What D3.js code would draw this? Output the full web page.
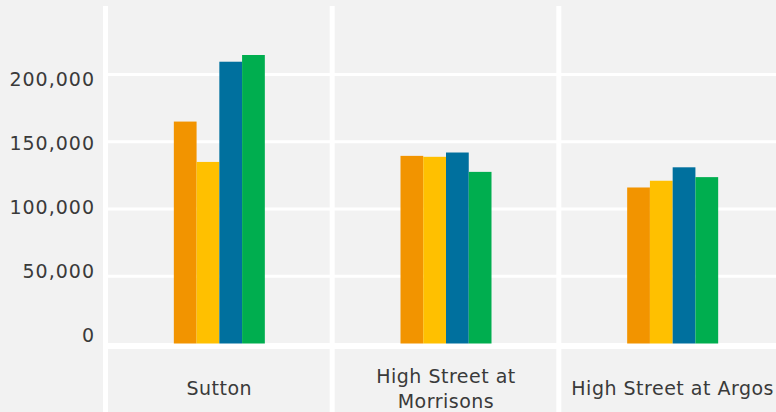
<!DOCTYPE html>
<html>
<head>
<meta charset="utf-8">
<script src="https://cdn.jsdelivr.net/npm/d3@7"></script>
<style>
    body { margin: 0; background: #f2f2f2; }
    svg { display: block; }
    text { font-family: "DejaVu Sans", sans-serif; fill: #3a3a3a; }
</style>
</head>
<body>
<div id="chart"></div>
<script>
// categories along the bottom, one panel each
const locations = ["Sutton", "High Street at Morrisons", "High Street at Argos"];

// four series per location (left to right in each panel)
const series_names = ["s1", "s2", "s3", "s4"];
const series_colors = ["#f29400", "#ffc000", "#00709e", "#00ae4f"];

const s1_values = [165000, 139500, 116000];
const s2_values = [135000, 138800, 121000];
const s3_values = [209500, 142000, 131000];
const s4_values = [214500, 127600, 123700];

const y_ticks = [0, 50000, 100000, 150000, 200000];

const width = 776, height = 412;

let svg = d3.select("#chart").append("svg")
    .attr("width", width)
    .attr("height", height);

let x = d3.scaleBand()
    .domain(locations)
    .range([106, 786]);

let x1 = d3.scaleBand()
    .domain(series_names)
    .range([0, 91]);

let y = d3.scaleLinear()
    .domain([0, 200000])
    .range([343.5, 74.5]);

// the tick labels sit on a slightly shorter axis pane than the grid
let y_label = d3.scaleLinear()
    .domain([0, 200000])
    .range([335, 79]);

let all_values = [s1_values, s2_values, s3_values, s4_values];
let bar_data = [];
locations.forEach(function (loc, i) {
    series_names.forEach(function (s, j) {
        bar_data.push({ loc: loc, series: s, color: series_colors[j], value: all_values[j][i] });
    });
});

let g_grid = svg.append("g");

// horizontal gridlines
g_grid.selectAll("line.h")
    .data(y_ticks.filter(d => d > 0))
    .enter()
    .append("line")
    .attr("class", "h")
    .attr("x1", 106)
    .attr("x2", width)
    .attr("y1", d => y(d))
    .attr("y2", d => y(d))
    .attr("stroke", "#fff")
    .attr("stroke-width", 3);

// zero line / axis separator
g_grid.append("line")
    .attr("x1", 103)
    .attr("x2", width)
    .attr("y1", y(0) + 2.5)
    .attr("y2", y(0) + 2.5)
    .attr("stroke", "#fff")
    .attr("stroke-width", 6);

// panel dividers
let dividers = locations.map(d => x(d));
g_grid.selectAll("line.v")
    .data(dividers)
    .enter()
    .append("line")
    .attr("class", "v")
    .attr("x1", d => d - 0.5)
    .attr("x2", d => d - 0.5)
    .attr("y1", 6)
    .attr("y2", height)
    .attr("stroke", "#fff")
    .attr("stroke-width", 5);

// bars
let offset = (x.bandwidth() - 91) / 2;
svg.append("g").selectAll("rect")
    .data(bar_data)
    .enter()
    .append("rect")
    .attr("x", d => x(d.loc) + offset + x1(d.series))
    .attr("y", d => y(d.value))
    .attr("width", x1.bandwidth())
    .attr("height", d => y(0) - y(d.value))
    .style("fill", d => d.color);

// y axis labels
let fmt = d3.format(",");
svg.append("g").selectAll("text")
    .data(y_ticks)
    .enter()
    .append("text")
    .attr("x", 95)
    .attr("y", d => y_label(d))
    .attr("dy", "0.36em")
    .attr("text-anchor", "end")
    .style("font-size", "19px")
    .style("letter-spacing", "1px")
    .text(d => fmt(d));

// x labels, wrapped to the panel width
let g_x = svg.append("g");
locations.forEach(function (loc) {
    let cx = x(loc) + x.bandwidth() / 2;
    let t = g_x.append("text")
        .attr("text-anchor", "middle")
        .style("font-size", "19px")
        .style("letter-spacing", "0.5px");
    let words = loc.split(" ");
    let lines = [];
    let line = [];
    let probe = t.append("tspan");
    words.forEach(function (w) {
        line.push(w);
        probe.text(line.join(" "));
        if (probe.node().getComputedTextLength() > 215 && line.length > 1) {
            line.pop();
            lines.push(line.join(" "));
            line = [w];
        }
    });
    lines.push(line.join(" "));
    probe.remove();
    let base = 395 - (lines.length - 1) * 12.5;
    lines.forEach(function (l, k) {
        t.append("tspan")
            .attr("x", cx)
            .attr("y", base + k * 25)
            .text(l);
    });
});
</script>
</body>
</html>
